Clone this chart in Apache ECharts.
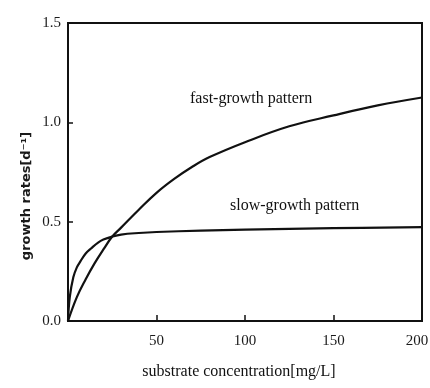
<!DOCTYPE html>
<html>
<head>
<meta charset="utf-8">
<script src="https://cdn.jsdelivr.net/npm/echarts@6/dist/echarts.min.js"></script>
<style>html,body{margin:0;padding:0;background:#fff}#c{width:430px;height:388px}</style>
</head>
<body>
<div id="c"></div>
<script>
var xTicks = [0, 50, 100, 150, 200];
var yTicks = [0.0, 0.5, 1.0, 1.5];
var fastX = [0, 5, 10, 15, 20, 25, 30, 40, 50, 60, 70, 80, 100, 125, 150, 175, 200];
var fastY = [0, 0.12, 0.21, 0.29, 0.36, 0.425, 0.47, 0.56, 0.645, 0.715, 0.775, 0.825, 0.9, 0.98, 1.035, 1.085, 1.125];
var slowX = [0, 1, 3, 5, 7, 10, 13, 17, 20, 25, 30, 40, 50, 75, 100, 150, 200];
var slowY = [0, 0.12, 0.22, 0.27, 0.30, 0.34, 0.365, 0.395, 0.41, 0.425, 0.435, 0.443, 0.448, 0.455, 0.46, 0.467, 0.473];
var fastLabel = 'fast-growth pattern';
var slowLabel = 'slow-growth pattern';
var xName = 'substrate concentration[mg/L]';
var yName = 'growth rates[d\u207B\u00B9]';

function pairs(xs, ys){ return xs.map(function(x,i){ return [x, ys[i]]; }); }

var chart = echarts.init(document.getElementById('c'), null, {renderer:'canvas'});
var serif = '"Liberation Serif", "DejaVu Serif", serif';
var xMax = xTicks[xTicks.length - 1];
chart.setOption({
  animation: false,
  backgroundColor: '#fff',
  grid: {left: 68, right: 8, top: 23, bottom: 67, show: true, borderColor: '#111', borderWidth: 2,
    containLabel: false, outerBoundsMode: 'none'},
  xAxis: {
    type: 'value', min: xTicks[0], max: xMax, interval: 50,
    axisLine: {show: true, lineStyle: {color: '#111', width: 2}},
    axisTick: {show: true, inside: true, length: 6, lineStyle: {color: '#111', width: 1.5}},
    axisLabel: {color: '#1a1a1a', fontFamily: serif, fontSize: 15, margin: 13,
      formatter: function(v){ if (v === 0) return ''; return v === xMax ? '{r|' + v + '}' : String(v); },
      rich: {r: {fontFamily: serif, fontSize: 15, color: '#1a1a1a', padding: [0, 10, 0, 0]}}},
    splitLine: {show: false}
  },
  yAxis: {
    type: 'value', min: yTicks[0], max: yTicks[yTicks.length - 1], interval: 0.5,
    axisLine: {show: true, lineStyle: {color: '#111', width: 2}},
    axisTick: {show: true, inside: true, length: 5, lineStyle: {color: '#111', width: 1.5}},
    axisLabel: {color: '#1a1a1a', fontFamily: serif, fontSize: 15, margin: 7,
      formatter: function(v){ return v.toFixed(1); }},
    splitLine: {show: false}
  },
  graphic: [
    {type: 'text', left: 190, top: 91, style: {text: fastLabel, fill: '#111', font: '16px ' + serif}},
    {type: 'text', left: 230, top: 198, style: {text: slowLabel, fill: '#111', font: '16px ' + serif}},
    {type: 'text', x: 239, y: 372, style: {text: xName, fill: '#111', font: '16px ' + serif, textAlign: 'center', textVerticalAlign: 'middle'}},
    {type: 'text', x: 27, y: 196, rotation: Math.PI/2, style: {text: yName, fill: '#1a1a1a', font: 'bold 13px "DejaVu Sans", sans-serif', textAlign: 'center', textVerticalAlign: 'middle'}}
  ],
  series: [
    {type: 'line', data: pairs(fastX, fastY), smooth: 0.4, showSymbol: false, lineStyle: {color: '#111', width: 2.2}},
    {type: 'line', data: pairs(slowX, slowY), smooth: 0.4, showSymbol: false, lineStyle: {color: '#111', width: 2.2}}
  ]
});
</script>
</body>
</html>
